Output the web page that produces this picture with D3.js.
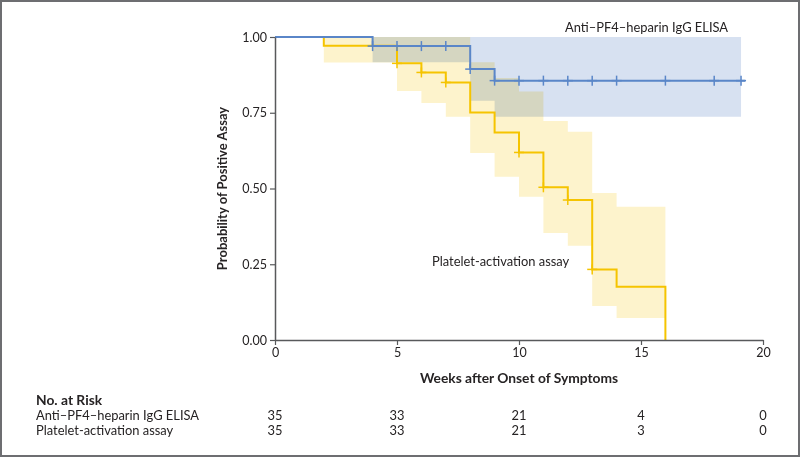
<!DOCTYPE html>
<html>
<head>
<meta charset="utf-8">
<script src="https://cdn.jsdelivr.net/npm/d3@7.9.0/dist/d3.min.js"></script>
<style>
  html, body { margin: 0; padding: 0; background: #fff; }
  svg { display: block; font-family: Lato, "Open Sans", sans-serif; }
  .band { mix-blend-mode: multiply; }
</style>
</head>
<body>
<svg id="chart" width="800" height="457"></svg>
<script>
// Kaplan-Meier steps
const elisaTimes = [0, 4, 8, 9];
const elisaSurv = [1.0, 0.97, 0.894, 0.856];
const elisaEnd = 19.27;
const elisaCensor = [4, 5, 6, 7, 8, 9, 10, 11, 12, 13, 14, 16, 18, 19.1];
const elisaBandStart = [4, 8, 9];
const elisaBandUpper = [1.0, 1.0, 1.0];
const elisaBandLower = [0.917, 0.79, 0.737];
const elisaBandEnd = 19.1;

const plateletTimes = [0, 2, 5, 6, 7, 8, 9, 10, 11, 12, 13, 14, 16];
const plateletSurv = [1.0, 0.971, 0.913, 0.883, 0.85, 0.751, 0.685, 0.619, 0.504, 0.462, 0.233, 0.176, 0];
const plateletEnd = 16;
const plateletCensor = [5, 6, 7, 10, 11, 12, 13];
const plateletBandStart = [2, 5, 6, 7, 8, 9, 10, 11, 12, 13, 14];
const plateletBandUpper = [1.0, 1.0, 1.0, 1.0, 0.917, 0.865, 0.82, 0.723, 0.687, 0.485, 0.44];
const plateletBandLower = [0.916, 0.822, 0.782, 0.737, 0.617, 0.539, 0.473, 0.353, 0.311, 0.112, 0.073];
const plateletBandEnd = 16;

const xTicks = [0, 5, 10, 15, 20];
const yTicks = [0, 0.25, 0.5, 0.75, 1.0];
const riskLabels = ["Anti\u2013PF4\u2013heparin IgG ELISA", "Platelet-activation assay"];
const riskElisa = [35, 33, 21, 4, 0];
const riskPlatelet = [35, 33, 21, 3, 0];

const svg = d3.select("#chart");
const margin = { left: 275, right: 37, top: 37, bottom: 117 };
const W = 800, H = 457;

const x = d3.scaleLinear().domain([0, 20]).range([margin.left, W - margin.right]);
const y = d3.scaleLinear().domain([0, 1]).range([H - margin.bottom, margin.top]);

// frame
svg.append("rect").attr("x", 1).attr("y", 1).attr("width", W - 2).attr("height", H - 2)
  .attr("fill", "none").attr("stroke", "#6d6e71").attr("stroke-width", 2);

const blue = "#5a86c8", yellow = "#f5c400", ink = "#262324";

function steps(times, vals, end) {
  let pts = times.map((t, i) => [t, vals[i]]);
  pts.push([end, vals[vals.length - 1]]);
  return pts;
}

const area = d3.area()
  .x(d => x(d[0])).y0(d => y(d[1])).y1(d => y(d[2]))
  .curve(d3.curveStepAfter);

function bandPts(starts, up, lo, end) {
  let pts = starts.map((t, i) => [t, lo[i], up[i]]);
  pts.push([end, lo[lo.length - 1], up[up.length - 1]]);
  return pts;
}

svg.append("path").attr("class", "band")
  .attr("d", area(bandPts(plateletBandStart, plateletBandUpper, plateletBandLower, plateletBandEnd)))
  .attr("fill", "#fdf3cc");
svg.append("path").attr("class", "band")
  .attr("d", area(bandPts(elisaBandStart, elisaBandUpper, elisaBandLower, elisaBandEnd)))
  .attr("fill", "#d7e1f1");

const line = d3.line().x(d => x(d[0])).y(d => y(d[1])).curve(d3.curveStepAfter);

function survAt(times, vals, t) {
  let v = vals[0];
  times.forEach((tt, i) => { if (tt <= t) v = vals[i]; });
  return v;
}

function drawCurve(times, vals, end, censor, color) {
  svg.append("path").attr("d", line(steps(times, vals, end)))
    .attr("fill", "none").attr("stroke", color).attr("stroke-width", 2);
  const g = svg.append("g").attr("stroke", color).attr("stroke-width", 1.5);
  censor.forEach(t => {
    const cx = x(t), cy = y(survAt(times, vals, t));
    g.append("line").attr("x1", cx).attr("x2", cx).attr("y1", cy - 5).attr("y2", cy + 5);
    g.append("line").attr("x1", cx - 5).attr("x2", cx + 5).attr("y1", cy).attr("y2", cy);
  });
}

drawCurve(plateletTimes, plateletSurv, plateletEnd, plateletCensor, yellow);
drawCurve(elisaTimes, elisaSurv, elisaEnd, elisaCensor, blue);

// axes
const axisColor = "#58595b";
const xAxis = svg.append("g").attr("transform", `translate(0,${y(0)})`)
  .call(d3.axisBottom(x).tickValues(xTicks).tickSize(5).tickSizeOuter(0).tickPadding(3));
const yAxis = svg.append("g").attr("transform", `translate(${x(0)},0)`)
  .call(d3.axisLeft(y).tickValues(yTicks).tickFormat(d3.format(".2f")).tickSize(5).tickSizeOuter(0).tickPadding(3));
[xAxis, yAxis].forEach(a => {
  a.select(".domain").attr("stroke", axisColor).attr("stroke-width", 1.5);
  a.selectAll(".tick line").attr("stroke", axisColor).attr("stroke-width", 1.2);
  a.selectAll(".tick text").attr("fill", ink).attr("font-size", 12.5)
    .attr("font-family", "Lato, sans-serif");
});

svg.append("text").attr("x", (x(0) + x(20)) / 2).attr("y", 383)
  .attr("text-anchor", "middle").attr("font-size", 13.8).attr("font-weight", "bold")
  .attr("fill", ink).text("Weeks after Onset of Symptoms");
svg.append("text").attr("transform", `translate(227,${y(0.5)}) rotate(-90)`)
  .attr("text-anchor", "middle").attr("font-size", 13).attr("font-weight", "bold")
  .attr("fill", ink).text("Probability of Positive Assay");

// curve labels
svg.append("text").attr("x", 565).attr("y", 32).attr("font-size", 12.9)
  .attr("fill", ink).text(riskLabels[0]);
svg.append("text").attr("x", 432).attr("y", 266).attr("font-size", 12.9)
  .attr("fill", ink).text(riskLabels[1]);

// number at risk
svg.append("text").attr("x", 36).attr("y", 405).attr("font-size", 13.8).attr("font-weight", "bold")
  .attr("fill", ink).text("No. at Risk");
[riskElisa, riskPlatelet].forEach((row, r) => {
  const yy = 420 + r * 15;
  svg.append("text").attr("x", 36).attr("y", yy).attr("font-size", 12.9)
    .attr("fill", ink).text(riskLabels[r]);
  row.forEach((n, i) => {
    svg.append("text").attr("x", x(xTicks[i])).attr("y", yy).attr("text-anchor", "middle")
      .attr("font-size", 12.9).attr("fill", ink).text(n);
  });
});
</script>
</body>
</html>
